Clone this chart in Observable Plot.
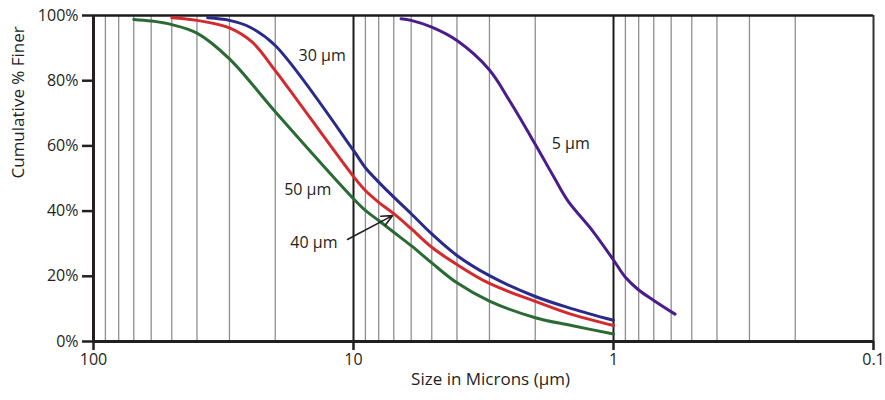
<!DOCTYPE html>
<html><head><meta charset="utf-8">
<script src="https://cdn.jsdelivr.net/npm/d3@7"></script>
<script src="https://cdn.jsdelivr.net/npm/@observablehq/plot@0.6"></script>
<style>body{margin:0;background:#fff}</style>
</head><body><div id="chart"></div>
<script>
// Particle-size distributions (size in µm, cumulative % finer)
const seriesNames = ["30 μm", "40 μm", "50 μm", "5 μm"];

const sizes30  = [36.4, 30, 25, 20, 10, 9, 8, 7, 6, 5, 4, 3, 2, 1.45, 1];
const values30 = [99.3, 98.5, 96.4, 90.8, 58.6, 53.3, 48.9, 44.3, 39.2, 33.0, 26.4, 20.2, 13.8, 10.1, 6.5];

const sizes40  = [50, 40, 30, 24.5, 20, 10, 9, 8, 7, 6, 5, 4, 3, 2, 1.45, 1];
const values40 = [99.3, 98.5, 96.2, 91.8, 83.1, 50.6, 46.3, 42.7, 39.2, 34.6, 28.9, 23.6, 17.8, 12.3, 8.3, 4.9];

const sizes50  = [70, 60, 50, 40, 30, 20, 10, 9, 8, 7, 6, 5, 4, 3, 2, 1.45, 1];
const values50 = [98.8, 98.3, 97.2, 94.6, 86.7, 70.5, 43.8, 40.2, 37.1, 33.5, 29.4, 24.1, 18.0, 12.4, 7.3, 4.9, 2.3];

const sizes5   = [6.56, 6, 5, 4, 3, 2.5, 2, 1.7, 1.5, 1.2, 1, 0.9, 0.8, 0.7, 0.58];
const values5  = [99.0, 98.5, 96.4, 92.3, 83.3, 73.6, 60.5, 50.6, 43.2, 33.8, 25.0, 19.7, 15.8, 12.6, 8.4];

const xTicks = [100, 10, 1, 0.1];
const xTickLabels = ["100", "10", "1", "0.1"];
const yTicks = [0, 20, 40, 60, 80, 100];
const yTickLabels = ["0%", "20%", "40%", "60%", "80%", "100%"];
const minorGrid = [90, 80, 70, 60, 50, 40, 30, 20, 9, 8, 7, 6, 5, 4, 3, 2, 0.9, 0.8, 0.7, 0.6, 0.5, 0.4, 0.3, 0.2];
const decadeLines = [10, 1];

// annotation labels (text, size, %)
const labelTexts = ["30 μm", "50 μm", "40 μm", "5 μm"];
const labelSizes = [13.2, 15.0, 14.2, 1.46];
const labelPcts  = [87.7, 46.6, 30.1, 60.7];
// arrow from "40 μm" to the curve
const arrowFrom = [10.55, 31.3];
const arrowTo   = [7.08, 38.6];

const seriesColors = ["#2a2a8c", "#d42a2e", "#2c6a34", "#4a1c8c"];

const allSizes = [sizes30, sizes40, sizes50, sizes5];
const allValues = [values30, values40, values50, values5];
const rows = seriesNames.flatMap((name, k) =>
  allSizes[k].map((s, i) => ({series: name, size: s, pct: allValues[k][i]})));
const labels = labelTexts.map((t, i) => ({text: t, size: labelSizes[i], pct: labelPcts[i]}));

const ink = "#231f20";
const chart = Plot.plot({
  width: 885, height: 400,
  marginLeft: 93, marginRight: 12, marginTop: 15, marginBottom: 59,
  style: {fontFamily: "'Open Sans', sans-serif", fontSize: "16px", color: ink, background: "#fff"},
  x: {type: "log", domain: [100, 0.1]},
  y: {domain: [0, 100]},
  color: {domain: seriesNames, range: seriesColors},
  marks: [
    Plot.ruleX(minorGrid, {stroke: "#8f8f8f", strokeWidth: 1.3}),
    Plot.ruleX(decadeLines, {stroke: "#1a1a1a", strokeWidth: 2}),
    Plot.ruleY([100], {stroke: "#1a1a1a", strokeWidth: 2.5}),
    Plot.ruleX([0.1], {stroke: "#333", strokeWidth: 2}),
    Plot.line(rows, {x: "size", y: "pct", z: "series", stroke: "series", strokeWidth: 3, curve: "catmull-rom"}),
    Plot.axisY({ticks: yTicks, tickFormat: (d) => yTickLabels[yTicks.indexOf(d)], tickSize: 11, tickPadding: 4,
      strokeWidth: 2.5, stroke: ink, fontSize: 16, label: null}),
    Plot.axisX({ticks: xTicks, tickFormat: (d) => xTickLabels[xTicks.indexOf(d)], tickSize: 9, tickPadding: 3,
      strokeWidth: 2.5, stroke: ink, fontSize: 16, label: null}),
    Plot.text(["Cumulative % Finer"], {frameAnchor: "left", dx: -75, rotate: -90, fontSize: 17, fill: ink}),
    Plot.text(["Size in Microns (μm)"], {frameAnchor: "bottom", dx: 7, dy: 43, fontSize: 17, fill: ink}),
    Plot.ruleX([100], {stroke: ink, strokeWidth: 3}),
    Plot.ruleY([0], {stroke: ink, strokeWidth: 3}),
    Plot.text(labels, {x: "size", y: "pct", text: "text", fill: ink, fontSize: 16}),
    Plot.arrow([{x1: arrowFrom[0], y1: arrowFrom[1], x2: arrowTo[0], y2: arrowTo[1]}],
      {x1: "x1", y1: "y1", x2: "x2", y2: "y2", stroke: ink, strokeWidth: 1.6, headLength: 11, headAngle: 50})
  ]
});
document.getElementById("chart").appendChild(chart);
</script></body></html>
